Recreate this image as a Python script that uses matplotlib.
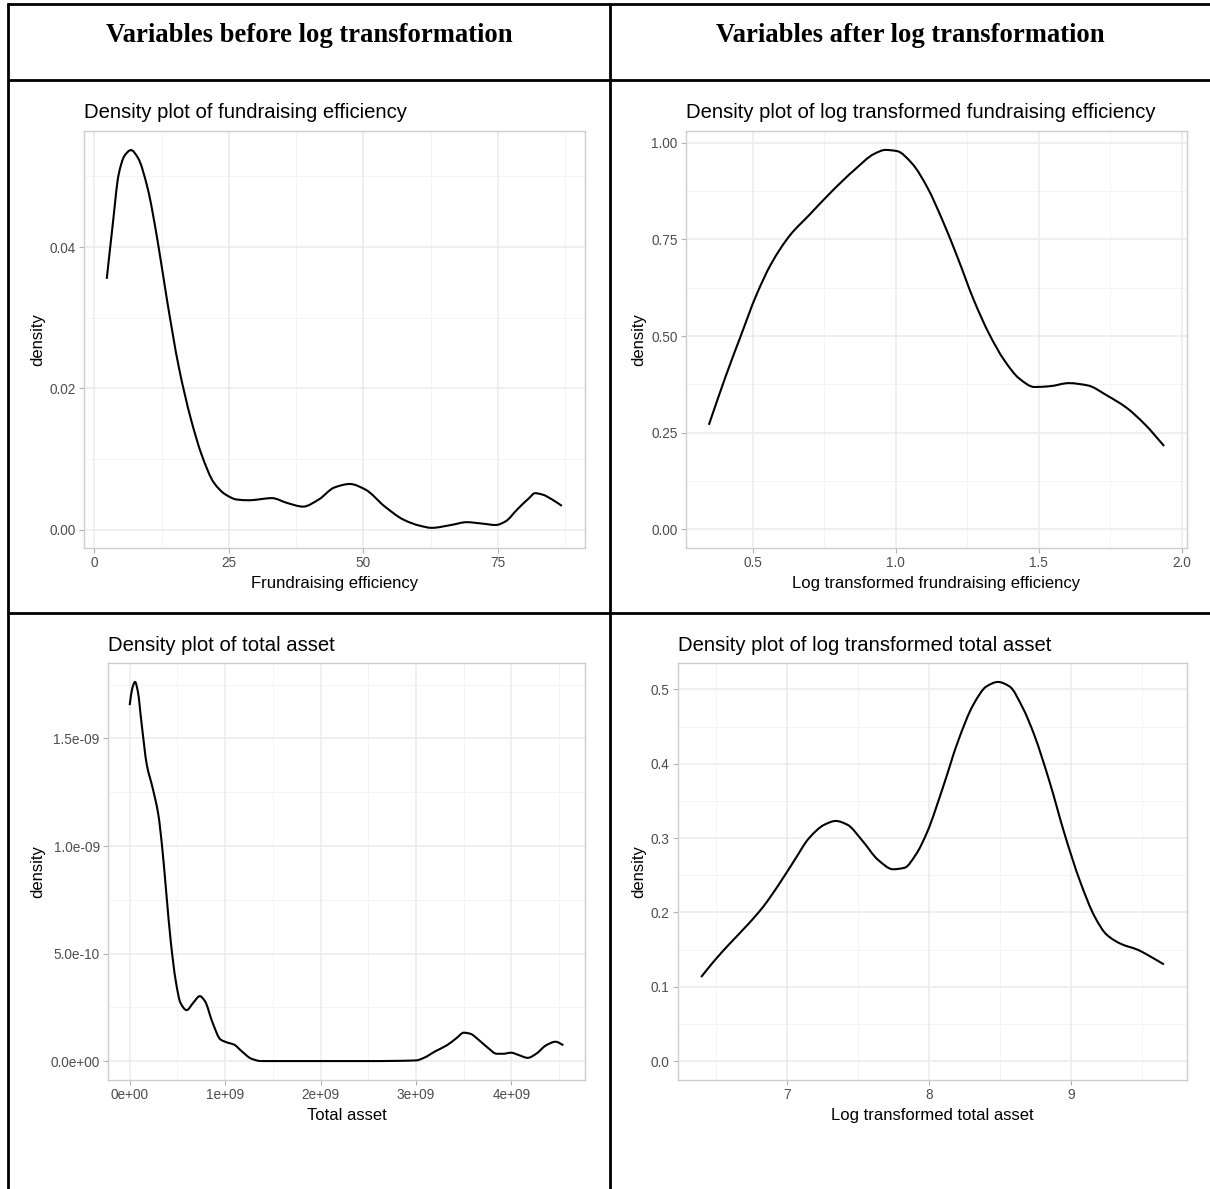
import matplotlib
matplotlib.use("Agg")
import matplotlib.pyplot as plt
from matplotlib.lines import Line2D
from matplotlib.path import Path
from matplotlib.patches import PathPatch

# ---------------- data ----------------
fe_x = [2.3, 3.4, 4.5, 5.6, 6.8, 8.1, 9.9, 11.7, 13.5, 15.7, 17.9, 20.0, 22.2, 24.4,
        26.5, 28.7, 33.0, 35.9, 38.8, 41.7, 44.6, 47.5, 50.4, 54.0, 57.6, 60.5, 62.7,
        66.3, 69.2, 72.1, 74.6, 76.4, 78.6, 80.8, 81.9, 83.3, 85.1, 86.9]
fe_y = [0.0355, 0.0431, 0.0502, 0.0529, 0.0537, 0.0526, 0.0483, 0.0411, 0.0325, 0.0230,
        0.0158, 0.0105, 0.0067, 0.0050, 0.0043, 0.0042, 0.0045, 0.0038, 0.0033, 0.0043,
        0.0060, 0.0065, 0.0057, 0.0033, 0.0014, 0.0006, 0.0003, 0.0007, 0.0011, 0.0009,
        0.0007, 0.0012, 0.0029, 0.0045, 0.0052, 0.0050, 0.0043, 0.0034]

lfe_x = [0.346, 0.404, 0.457, 0.511, 0.564, 0.631, 0.698, 0.778, 0.858, 0.925, 0.964,
         1.004, 1.058, 1.111, 1.165, 1.218, 1.272, 1.325, 1.379, 1.432, 1.485, 1.539,
         1.605, 1.672, 1.739, 1.806, 1.872, 1.939]
lfe_y = [0.270, 0.394, 0.499, 0.604, 0.687, 0.762, 0.814, 0.876, 0.932, 0.972, 0.982,
         0.979, 0.946, 0.884, 0.797, 0.700, 0.595, 0.508, 0.438, 0.390, 0.368, 0.370,
         0.378, 0.372, 0.346, 0.315, 0.271, 0.215]

ta_x = [0.0e9, 0.028e9, 0.057e9, 0.085e9, 0.126e9, 0.179e9, 0.240e9, 0.300e9, 0.341e9,
        0.382e9, 0.430e9, 0.483e9, 0.532e9, 0.597e9, 0.666e9, 0.735e9, 0.788e9, 0.869e9,
        0.950e9, 1.031e9, 1.092e9, 1.173e9, 1.275e9, 1.376e9, 2.0e9, 2.5e9, 3.0e9,
        3.082e9, 3.204e9, 3.325e9, 3.427e9, 3.500e9, 3.569e9, 3.650e9, 3.752e9, 3.845e9,
        3.914e9, 3.995e9, 4.076e9, 4.170e9, 4.259e9, 4.361e9, 4.462e9, 4.543e9]
ta_y = [16.55e-10, 17.35e-10, 17.63e-10, 17.2e-10, 15.65e-10, 13.79e-10, 12.71e-10,
        11.47e-10, 9.92e-10, 7.90e-10, 5.58e-10, 3.72e-10, 2.71e-10, 2.37e-10, 2.71e-10,
        3.02e-10, 2.79e-10, 1.78e-10, 1.01e-10, 0.85e-10, 0.77e-10, 0.46e-10, 0.11e-10,
        0.0, 0.0, 0.0, 0.03e-10, 0.15e-10, 0.46e-10, 0.74e-10, 1.08e-10, 1.32e-10,
        1.27e-10, 1.01e-10, 0.62e-10, 0.34e-10, 0.34e-10, 0.39e-10, 0.28e-10, 0.15e-10,
        0.34e-10, 0.73e-10, 0.90e-10, 0.74e-10]

lta_x = [6.392, 6.481, 6.589, 6.723, 6.831, 6.938, 7.046, 7.153, 7.261, 7.341, 7.422,
         7.530, 7.637, 7.745, 7.825, 7.906, 7.987, 8.094, 8.202, 8.309, 8.403, 8.484,
         8.565, 8.659, 8.739, 8.847, 8.954, 9.062, 9.169, 9.250, 9.358, 9.465, 9.573, 9.653]
lta_y = [0.113, 0.134, 0.157, 0.184, 0.208, 0.237, 0.269, 0.300, 0.318, 0.323, 0.318,
         0.296, 0.271, 0.258, 0.260, 0.278, 0.309, 0.367, 0.430, 0.479, 0.504, 0.510,
         0.504, 0.475, 0.439, 0.376, 0.305, 0.242, 0.193, 0.170, 0.157, 0.150, 0.139, 0.130]

headers = ["Variables before log transformation", "Variables after log transformation"]

fe_xticks = [0, 25, 50, 75]
fe_xlabels = ["0", "25", "50", "75"]
fe_yticks = [0.00, 0.02, 0.04]
fe_ylabels = ["0.00", "0.02", "0.04"]

lfe_xticks = [0.5, 1.0, 1.5, 2.0]
lfe_xlabels = ["0.5", "1.0", "1.5", "2.0"]
lfe_yticks = [0.00, 0.25, 0.50, 0.75, 1.00]
lfe_ylabels = ["0.00", "0.25", "0.50", "0.75", "1.00"]

ta_xticks = [0, 1e9, 2e9, 3e9, 4e9]
ta_xlabels = ["0e+00", "1e+09", "2e+09", "3e+09", "4e+09"]
ta_yticks = [0, 5e-10, 1e-9, 1.5e-9]
ta_ylabels = ["0.0e+00", "5.0e-10", "1.0e-09", "1.5e-09"]

lta_xticks = [7, 8, 9]
lta_xlabels = ["7", "8", "9"]
lta_yticks = [0.0, 0.1, 0.2, 0.3, 0.4, 0.5]
lta_ylabels = ["0.0", "0.1", "0.2", "0.3", "0.4", "0.5"]

# ---------------- layout ----------------
W, H = 1210, 1189
fig = plt.figure(figsize=(W / 100, H / 100), dpi=100)
fig.patch.set_facecolor("white")
plt.rcParams["font.family"] = ["Liberation Sans", "DejaVu Sans"]


def px_rect(x0, y0, x1, y1):
    return [x0 / W, 1 - y1 / H, (x1 - x0) / W, (y1 - y0) / H]


def fx(x):
    return x / W


def fy(y):
    return 1 - y / H


# table lines
lw_tab = 2.0
for (xa, ya, xb, yb) in [(7, 4, 1210, 4), (7, 80, 1210, 80), (7, 613, 1210, 613),
                         (8, 3, 8, 1189), (610, 3, 610, 1189)]:
    fig.add_artist(Line2D([fx(xa), fx(xb)], [fy(ya), fy(yb)], color="black",
                          lw=lw_tab, transform=fig.transFigure, solid_capstyle="butt"))

fig.text(fx(309), fy(36), headers[0], ha="center", va="center",
         family=["Liberation Serif"], weight="bold", fontsize=19.2)
fig.text(fx(910), fy(36), headers[1], ha="center", va="center",
         family=["Liberation Serif"], weight="bold", fontsize=19.2)

GRID_MAJ = "#EBEBEB"
GRID_MIN = "#F4F4F4"
BORDER = "#CCCCCC"
TICKC = "#4D4D4D"


def smooth_path(x, y):
    """Smooth (monotone cubic Hermite) Bezier path through the data points."""
    n = len(x)
    h = [x[i + 1] - x[i] for i in range(n - 1)]
    d = [(y[i + 1] - y[i]) / h[i] for i in range(n - 1)]
    m = [0.0] * n
    m[0] = d[0]
    m[-1] = d[-1]
    for i in range(1, n - 1):
        if d[i - 1] * d[i] <= 0:
            m[i] = 0.0
        else:
            w1 = 2 * h[i] + h[i - 1]
            w2 = h[i] + 2 * h[i - 1]
            m[i] = (w1 + w2) / (w1 / d[i - 1] + w2 / d[i])
    verts = [(x[0], y[0])]
    codes = [Path.MOVETO]
    for i in range(n - 1):
        verts += [(x[i] + h[i] / 3, y[i] + m[i] * h[i] / 3),
                  (x[i + 1] - h[i] / 3, y[i + 1] - m[i + 1] * h[i] / 3),
                  (x[i + 1], y[i + 1])]
        codes += [Path.CURVE4] * 3
    return Path(verts, codes)


def panel(rect, x, y, title, xlabel, xlim, ylim, xt, xl, yt, yl, xminor, yminor, ylab_x):
    ax = fig.add_axes(px_rect(*rect))
    ax.set_facecolor("white")
    ax.set_xlim(*xlim)
    ax.set_ylim(*ylim)
    for v in xminor:
        ax.axvline(v, color=GRID_MIN, lw=0.7, zorder=0)
    for v in yminor:
        ax.axhline(v, color=GRID_MIN, lw=0.7, zorder=0)
    for v in xt:
        ax.axvline(v, color=GRID_MAJ, lw=1.1, zorder=0.5)
    for v in yt:
        ax.axhline(v, color=GRID_MAJ, lw=1.1, zorder=0.5)
    ax.add_patch(PathPatch(smooth_path(x, y), facecolor="none", edgecolor="black",
                           lw=1.5, zorder=3, joinstyle="round", capstyle="butt"))
    ax.set_xticks(xt)
    ax.set_xticklabels(xl)
    ax.set_yticks(yt)
    ax.set_yticklabels(yl)
    ax.tick_params(length=3.5, width=0.8, color="#B3B3B3", labelcolor=TICKC,
                   labelsize=9.8, pad=2.5)
    for s in ax.spines.values():
        s.set_color(BORDER)
        s.set_linewidth(1.0)
    ax.set_title(title, loc="left", fontsize=14.6, color="black", pad=9)
    ax.set_xlabel(xlabel, fontsize=12, color="black", labelpad=4)
    ax.set_ylabel("density", fontsize=12, color="black")
    ax.yaxis.set_label_coords(fx(ylab_x), (fy(rect[1]) + fy(rect[3])) / 2,
                              transform=fig.transFigure)
    return ax


panel((84, 131, 585, 548), fe_x, fe_y, "Density plot of fundraising efficiency",
      "Frundraising efficiency", (-1.93, 91.2), (-0.00255, 0.0564),
      fe_xticks, fe_xlabels, fe_yticks, fe_ylabels,
      [12.5, 37.5, 62.5, 87.5], [0.01, 0.03, 0.05], 45)

panel((686, 131, 1187, 548), lfe_x, lfe_y,
      "Density plot of log transformed fundraising efficiency",
      "Log transformed frundraising efficiency", (0.266, 2.019), (-0.049, 1.031),
      lfe_xticks, lfe_xlabels, lfe_yticks, lfe_ylabels,
      [0.75, 1.25, 1.75], [0.125, 0.375, 0.625, 0.875], 646)

panel((108, 663, 585, 1080), ta_x, ta_y, "Density plot of total asset",
      "Total asset", (-0.227e9, 4.77e9), (-0.88e-10, 18.51e-10),
      ta_xticks, ta_xlabels, ta_yticks, ta_ylabels,
      [0.5e9, 1.5e9, 2.5e9, 3.5e9, 4.5e9], [2.5e-10, 7.5e-10, 12.5e-10, 17.5e-10], 45)

panel((678, 663, 1187, 1080), lta_x, lta_y, "Density plot of log transformed total asset",
      "Log transformed total asset", (6.229, 9.816), (-0.0255, 0.5355),
      lta_xticks, lta_xlabels, lta_yticks, lta_ylabels,
      [6.5, 7.5, 8.5, 9.5], [0.05, 0.15, 0.25, 0.35, 0.45], 646)

fig.savefig("out.png", dpi=100, facecolor="white")
